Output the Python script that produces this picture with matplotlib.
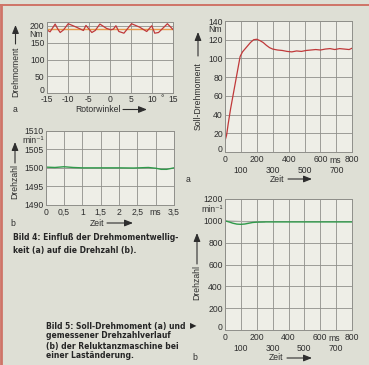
import matplotlib
matplotlib.use("Agg")
import matplotlib.pyplot as plt
from matplotlib import font_manager
from matplotlib.lines import Line2D

# ---------------- data ----------------
# Bild 4a: torque vs rotor angle
rot_angle = [-15, -14.2, -13.0, -12.4, -11.8, -11.0, -9.9, -8.0, -6.3, -5.7, -4.3,
             -3.5, -2.4, -0.8, 0.2, 0.8, 1.4, 2.1, 3.3, 5.1, 7.0, 8.7, 9.9, 10.6,
             11.5, 13.6, 15]
torque_ripple = [188, 182, 205, 191, 180, 188, 206, 196, 186, 201, 180,
                 186, 205, 192, 188, 190, 200, 183, 178, 206, 196, 183, 200, 178,
                 180, 206, 188]
torque_mean = 191

# Bild 4b: speed vs time (ms)
t_4b = [0, 0.25, 0.5, 0.75, 1.0, 1.5, 2.0, 2.4, 2.8, 3.0, 3.15, 3.3, 3.5]
speed_4b = [1500.2, 1500.1, 1500.3, 1500.1, 1500.0, 1500.0, 1500.0, 1499.95,
            1500.1, 1499.9, 1499.6, 1499.6, 1500.0]

# Bild 5a: set torque vs time (ms)
t_5a = [0, 10, 20, 35, 50, 65, 80, 95, 110, 125, 140, 160, 180, 200, 220, 240,
        260, 280, 300, 330, 360, 390, 420, 450, 480, 510, 540, 570, 600, 630,
        660, 690, 720, 750, 780, 800]
torque_5a = [12, 18, 30, 46, 60, 74, 88, 102, 107, 110, 113, 117, 120, 120.5,
             119, 117, 114, 111.5, 110, 109, 108.5, 107.5, 107, 108, 107.5,
             108.5, 109, 109.5, 109, 110, 110.5, 109.5, 110.5, 110, 109.5, 111]

# Bild 5b: measured speed vs time (ms)
t_5b = [0, 25, 50, 75, 100, 125, 150, 175, 200, 250, 300, 400, 500, 600, 700, 800]
speed_5b = [1000, 990, 978, 970, 968, 971, 978, 985, 988, 990, 990, 990, 990,
            990, 990, 990]
t_5b_ref = [0, 50, 100, 150, 200, 250]
speed_5b_ref = [1000, 997, 994, 991, 989, 990]

caption4 = ["Bild 4: Einfluß der Drehmomentwellig-",
            "keit (a) auf die Drehzahl (b)."]
caption5 = ["Bild 5: Soll-Drehmoment (a) und",
            "gemessener Drehzahlverlauf",
            "(b) der Reluktanzmaschine bei",
            "einer Laständerung."]

# ---------------- style ----------------
W, H = 369, 365
fig = plt.figure(figsize=(W / 100, H / 100), dpi=100)
fig.patch.set_facecolor("#dedfd5")

avail = {f.name for f in font_manager.fontManager.ttflist}
tick_font = "Liberation Sans" if "Liberation Sans" in avail else "DejaVu Sans"
FAM = [tick_font, "DejaVu Sans"]

GRID = "#8f8f8a"
TXT = "#2e2e2e"
FACE = "#eeeee7"
RED = "#c0393a"
ORANGE = "#e89a4a"
GREEN = "#2f9a4a"


def px_axes(l, t, r, b):
    return fig.add_axes([l / W, 1 - b / H, (r - l) / W, (b - t) / H])


def ftext(x, y, s, **kw):
    kw.setdefault("fontsize", 6.2)
    kw.setdefault("color", TXT)
    kw.setdefault("family", FAM)
    return fig.text(x / W, 1 - y / H, s, **kw)


overlay = fig.add_axes([0, 0, 1, 1], facecolor="none")
overlay.set_axis_off()
overlay.set_xlim(0, W)
overlay.set_ylim(H, 0)
overlay.set_zorder(10)


def farrow(x0, y0, x1, y1):
    overlay.annotate("", xy=(x1, y1), xytext=(x0, y0),
                     arrowprops=dict(arrowstyle="-|>,head_length=0.5,head_width=0.2",
                                     color=TXT, lw=0.8, shrinkA=0, shrinkB=0))


def style(ax, xpad=2.0, raise_zero=True):
    ax.set_facecolor(FACE)
    for s in ax.spines.values():
        s.set_color(GRID)
        s.set_linewidth(0.7)
    ax.grid(True, color=GRID, lw=0.6)
    ax.set_axisbelow(True)
    ax.tick_params(length=0, labelsize=6.2, labelcolor=TXT, pad=1.5)
    ax.tick_params(axis="x", pad=xpad)
    for lab in ax.get_xticklabels() + ax.get_yticklabels():
        lab.set_family(FAM)
    if raise_zero:
        ax.get_yticklabels()[0].set_verticalalignment("baseline")


# ---- Bild 4a ----
ax1 = px_axes(46.7, 21.7, 173.3, 93.3)
ax1.plot([-15, 15], [torque_mean, torque_mean], color=ORANGE, lw=1.0)
ax1.plot(rot_angle, torque_ripple, color=RED, lw=0.9)
ax1.set_xlim(-15, 15)
ax1.set_ylim(0, 212)
ax1.set_xticks([-15, -10, -5, 0, 5, 10, 15])
ax1.set_xticklabels(["-15", "-10", "-5", "0", "5", "10", "15"])
ax1.set_yticks([0, 50, 100, 150, 200])
ax1.set_yticklabels(["0", "50", "100", "150", "200"])
style(ax1, xpad=1.5)
ftext(162.5, 99, "°", ha="center", va="center")
ftext(36, 34.5, "Nm", ha="center", va="center")
ftext(15.5, 72, "Drehmoment", rotation=90, ha="center", va="center")
farrow(15.5, 44, 15.5, 25)
ftext(15, 109, "a", ha="center", va="center")
ftext(98, 109.5, "Rotorwinkel", ha="center", va="center")
farrow(123, 109.5, 147, 109.5)

# ---- Bild 4b ----
ax2 = px_axes(45.7, 130.7, 174, 205)
ax2.plot(t_4b, speed_4b, color=GREEN, lw=1.0)
ax2.set_xlim(0, 3.5)
ax2.set_ylim(1490, 1510)
ax2.set_xticks([0, 0.5, 1, 1.5, 2, 2.5, 3, 3.5])
ax2.set_xticklabels(["0", "0,5", "1", "1,5", "2", "2,5", "ms", "3,5"])
ax2.set_yticks([1490, 1495, 1500, 1505, 1510])
ax2.set_yticklabels(["1490", "1495", "1500", "1505", "1510"])
style(ax2, raise_zero=False)
ftext(33, 140.5, "min⁻¹", ha="center", va="center")
ftext(15, 182, "Drehzahl", rotation=90, ha="center", va="center")
farrow(15, 163, 15, 142)
ftext(13, 223, "b", ha="center", va="center")
ftext(97, 223, "Zeit", ha="center", va="center")
farrow(107, 223, 133, 223)

# ---- Bild 5a ----
ax3 = px_axes(225, 21, 352.3, 152)
ax3.plot(t_5a, torque_5a, color=RED, lw=0.9)
ax3.set_xlim(0, 800)
ax3.set_ylim(0, 140)
ax3.set_yticks(range(0, 141, 20))
ax3.set_yticklabels([str(v) for v in range(0, 141, 20)])
style(ax3)


def two_row_x(ax):
    ax.set_xticks([0, 200, 400, 600, 800])
    ax.set_xticklabels(["0", "200", "400", "600", "800"])
    ax.set_xticks([100, 300, 500, 700], minor=True)
    ax.set_xticklabels(["100", "300", "500", "700"], minor=True)
    ax.tick_params(axis="x", which="minor", length=0, pad=10, labelsize=6.2,
                   labelcolor=TXT)
    ax.grid(True, which="minor", axis="x", color=GRID, lw=0.6)
    for lab in ax.get_xticklabels() + ax.get_xticklabels(minor=True):
        lab.set_family(FAM)


two_row_x(ax3)
ax3.text(690, -3.8, "ms", ha="center", va="top", fontsize=6.2, color=TXT,
         family=FAM)
ftext(215, 29.5, "Nm", ha="center", va="center")
ftext(198, 96, "Soll-Drehmoment", rotation=90, ha="center", va="center")
farrow(198, 56, 198, 32)
ftext(188, 179, "a", ha="center", va="center")
ftext(277, 179, "Zeit", ha="center", va="center")
farrow(288, 179, 312, 179)

# ---- Bild 5b ----
ax4 = px_axes(225, 199, 352, 330)
ax4.plot(t_5b_ref, speed_5b_ref, color="#a8a8a4", lw=0.8)
ax4.plot(t_5b, speed_5b, color=GREEN, lw=1.0)
ax4.set_xlim(0, 800)
ax4.set_ylim(0, 1200)
ax4.set_yticks(range(0, 1201, 200))
ax4.set_yticklabels([str(v) for v in range(0, 1201, 200)])
style(ax4)
two_row_x(ax4)
ax4.text(690, -33, "ms", ha="center", va="top", fontsize=6.2, color=TXT,
         family=FAM)
ftext(212, 210, "min⁻¹", ha="center", va="center")
ftext(197, 283, "Drehzahl", rotation=90, ha="center", va="center")
farrow(197, 264, 197, 233)
ftext(195, 358, "b", ha="center", va="center")
ftext(276, 358, "Zeit", ha="center", va="center")
farrow(287, 358, 312, 358)

# ---- captions (size fitted so first line spans the reference width) ----
cap = dict(fontsize=6.0, color="#262626", family=["DejaVu Sans"],
           fontweight="bold", ha="left", va="center")
probe = ftext(13, 238, caption4[0], **cap)
renderer = fig.canvas.get_renderer()
w0 = probe.get_window_extent(renderer).width
cap["fontsize"] = 6.0 * 167.0 / w0
probe.remove()

ftext(13, 238, caption4[0], **cap)
ftext(13, 250, caption4[1], **cap)
ys5 = [326, 336, 346, 356]
t5 = [ftext(46, y, s, **cap) for y, s in zip(ys5, caption5)]
end_px = t5[0].get_window_extent(renderer).x1
ftext(end_px + 4, 326, "▶", fontsize=6.0, color="#262626",
      family=["DejaVu Sans"], ha="left", va="center")

# ---- page borders ----
fig.add_artist(Line2D([0, 1], [1 - 5 / H, 1 - 5 / H], color="#cf7468", lw=1.4,
                      transform=fig.transFigure))
fig.add_artist(Line2D([1 / W, 1 / W], [0, 1 - 5 / H], color="#cf7468", lw=2.0,
                      transform=fig.transFigure))

fig.savefig("out.png", dpi=100, facecolor=fig.get_facecolor())
